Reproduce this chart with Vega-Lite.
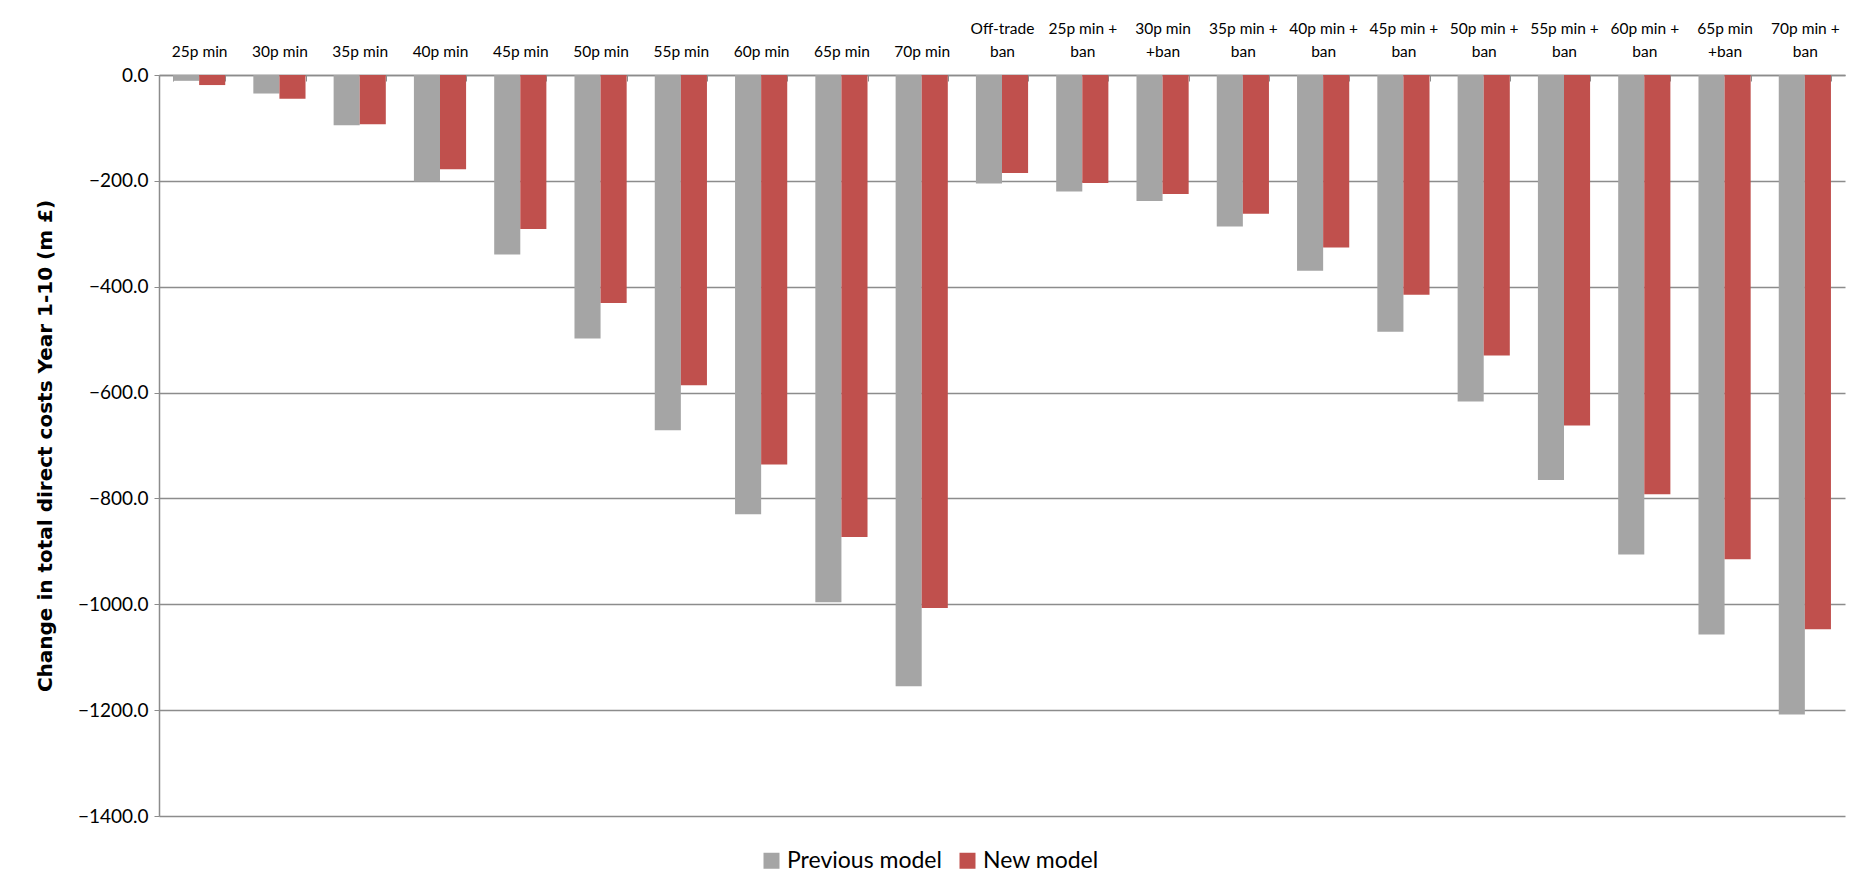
{
  "$schema": "https://vega.github.io/schema/vega-lite/v6.json",
  "width": 1686,
  "height": 741,
  "autosize": {"type": "none"},
  "padding": {"left": 159, "top": 75, "right": 18, "bottom": 74},
  "background": "white",
  "data": {
    "values": [
      {"scenario": "25p min", "model": "Previous model", "value": -11},
      {"scenario": "25p min", "model": "New model", "value": -19},
      {"scenario": "30p min", "model": "Previous model", "value": -35},
      {"scenario": "30p min", "model": "New model", "value": -45},
      {"scenario": "35p min", "model": "Previous model", "value": -95},
      {"scenario": "35p min", "model": "New model", "value": -93},
      {"scenario": "40p min", "model": "Previous model", "value": -201},
      {"scenario": "40p min", "model": "New model", "value": -178},
      {"scenario": "45p min", "model": "Previous model", "value": -339},
      {"scenario": "45p min", "model": "New model", "value": -291},
      {"scenario": "50p min", "model": "Previous model", "value": -498},
      {"scenario": "50p min", "model": "New model", "value": -431},
      {"scenario": "55p min", "model": "Previous model", "value": -671},
      {"scenario": "55p min", "model": "New model", "value": -586},
      {"scenario": "60p min", "model": "Previous model", "value": -830},
      {"scenario": "60p min", "model": "New model", "value": -736},
      {"scenario": "65p min", "model": "Previous model", "value": -996},
      {"scenario": "65p min", "model": "New model", "value": -873},
      {"scenario": "70p min", "model": "Previous model", "value": -1155},
      {"scenario": "70p min", "model": "New model", "value": -1007},
      {"scenario": "Off-trade ban", "model": "Previous model", "value": -205},
      {"scenario": "Off-trade ban", "model": "New model", "value": -185},
      {"scenario": "25p min + ban", "model": "Previous model", "value": -220},
      {"scenario": "25p min + ban", "model": "New model", "value": -204},
      {"scenario": "30p min +ban", "model": "Previous model", "value": -238},
      {"scenario": "30p min +ban", "model": "New model", "value": -225},
      {"scenario": "35p min + ban", "model": "Previous model", "value": -286},
      {"scenario": "35p min + ban", "model": "New model", "value": -262},
      {"scenario": "40p min + ban", "model": "Previous model", "value": -370},
      {"scenario": "40p min + ban", "model": "New model", "value": -326},
      {"scenario": "45p min + ban", "model": "Previous model", "value": -485},
      {"scenario": "45p min + ban", "model": "New model", "value": -415},
      {"scenario": "50p min + ban", "model": "Previous model", "value": -617},
      {"scenario": "50p min + ban", "model": "New model", "value": -530},
      {"scenario": "55p min + ban", "model": "Previous model", "value": -765},
      {"scenario": "55p min + ban", "model": "New model", "value": -662},
      {"scenario": "60p min + ban", "model": "Previous model", "value": -906},
      {"scenario": "60p min + ban", "model": "New model", "value": -792},
      {"scenario": "65p min +ban", "model": "Previous model", "value": -1057},
      {"scenario": "65p min +ban", "model": "New model", "value": -915},
      {"scenario": "70p min + ban", "model": "Previous model", "value": -1208},
      {"scenario": "70p min + ban", "model": "New model", "value": -1047}
    ]
  },
  "mark": {"type": "bar"},
  "encoding": {
    "x": {
      "field": "scenario",
      "type": "nominal",
      "sort": null,
      "scale": {"paddingInner": 0.35, "paddingOuter": 0.175},
      "axis": {
        "orient": "top",
        "title": null,
        "labelAngle": 0,
        "labelFont": "Lato",
        "labelFontSize": 15.5,
        "labelColor": "#000000",
        "labelLineHeight": 23,
        "labelBaseline": "bottom",
        "labelPadding": 45,
        "labelExpr": "indexof(datum.label, 'ban') >= 0 ? split(replace(replace(datum.label, ' +ban', '|+ban'), ' ban', '|ban'), '|') : ['', datum.label]",
        "domainColor": "#8C8C8C",
        "domainWidth": 1.5,
        "tickColor": "#8C8C8C",
        "tickBand": "extent",
        "tickSize": -6,
        "grid": false
      }
    },
    "xOffset": {
      "field": "model",
      "type": "nominal",
      "sort": ["Previous model", "New model"],
      "scale": {"paddingInner": 0, "paddingOuter": 0}
    },
    "y": {
      "field": "value",
      "type": "quantitative",
      "scale": {"domain": [-1400, 0], "nice": false, "zero": true},
      "axis": {
        "title": "Change in total direct costs Year 1-10 (m £)",
        "titleFont": "DejaVu Sans",
        "titleFontSize": 20,
        "titleFontWeight": "bold",
        "titleColor": "#000000",
        "titlePadding": 22,
        "values": [0, -200, -400, -600, -800, -1000, -1200, -1400],
        "format": ".1f",
        "labelFont": "Lato",
        "labelFontSize": 19,
        "labelColor": "#000000",
        "labelPadding": 6,
        "tickSize": 5,
        "tickColor": "#8C8C8C",
        "domainColor": "#8C8C8C",
        "domainWidth": 1.5,
        "grid": true,
        "gridColor": "#8C8C8C",
        "gridWidth": 1.5
      }
    },
    "color": {
      "field": "model",
      "type": "nominal",
      "sort": ["Previous model", "New model"],
      "scale": {"domain": ["Previous model", "New model"], "range": ["#A5A5A5", "#C0504D"]},
      "legend": {
        "title": null,
        "orient": "none",
        "direction": "horizontal",
        "legendX": 601,
        "legendY": 774,
        "symbolType": "square",
        "symbolSize": 256,
        "symbolStrokeWidth": 0,
        "symbolOpacity": 1,
        "labelFont": "Lato",
        "labelFontSize": 23,
        "labelColor": "#000000",
        "labelOffset": 4,
        "columnPadding": 14
      }
    }
  },
  "config": {
    "view": {"stroke": null},
    "bar": {"stroke": null}
  }
}
